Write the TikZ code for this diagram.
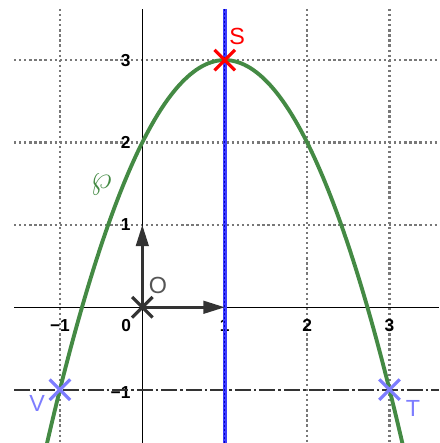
\documentclass[tikz,border=0pt]{standalone}
\usepackage{fontspec}
\setmainfont{Liberation Sans}
\usetikzlibrary{arrows.meta,shapes.misc}
\definecolor{gridgray}{RGB}{120,120,120}
\definecolor{curvegreen}{RGB}{68,138,68}
\definecolor{vecgray}{RGB}{51,51,51}
\definecolor{ptblue}{RGB}{125,125,255}
\definecolor{linblue}{RGB}{60,60,255}
\definecolor{darkblue}{RGB}{0,0,190}
\definecolor{labgray}{RGB}{85,85,85}
\tikzset{
  gridline/.style={gridgray,line width=1.9pt,dash pattern=on 1.7pt off 2.1pt},
  axisline/.style={black,line width=0.9pt},
  dashdotline/.style={vecgray,line width=1.7pt,dash pattern=on 12pt off 2.2pt on 2pt off 2.2pt},
  vec/.style={vecgray,line width=1.9pt,-{Triangle[length=16pt,width=9.5pt]}},
  ptmark/.style={cross out,draw=#1,line width=2.4pt,minimum size=13pt,inner sep=0pt},
  ticklab/.style={font=\fontsize{13}{15}\selectfont\bfseries,inner sep=0pt},
  ptlab/.style={font=\fontsize{17.5}{19}\selectfont,inner sep=0pt}
}
\begin{document}
\begin{tikzpicture}[x=61.8pt,y=61.8pt]
\useasboundingbox (-1.727,-1.647) rectangle (3.601,3.729);
% grid
\foreach \gx in {-1,1,2,3} \draw[gridline] (\gx,3.62) -- (\gx,-1.647);
\foreach \gy in {1,2,3} \draw[gridline] (-1.556,\gy) -- (3.601,\gy);
% axes
\draw[axisline] (-1.556,0) -- (3.601,0);
\draw[axisline] (0,-1.647) -- (0,3.62);
% tick labels
\foreach \tx/\tl in {-1/−1,1/1,2/2,3/3} \node[ticklab] (tx\tx) at (\tx,-0.22) {\tl};
\node[ticklab] (tx0) at (-0.197,-0.22) {0};
\foreach \ty in {1,2,3} \node[ticklab,anchor=east] (ty\ty) at (-0.14,\ty) {\ty};
\node[ticklab,anchor=east] (tym1) at (-0.14,-1.03) {−1};
% dash-dot line y=-1
\draw[dashdotline] (-1.556,-1) -- (3.601,-1);
% blue line x=1
\draw[linblue,line width=3pt] (1,3.62) -- (1,-1.647);
\draw[darkblue,line width=1pt,dash pattern=on 1.5pt off 1.5pt] (1,3.62) -- (1,-1.647);
% parabola
\begin{scope}
\clip (-1.727,-1.647) rectangle (3.601,3.729);
\draw[curvegreen,line width=2.9pt,domain=-1.17:3.17,samples=120,smooth] plot (\x,{3-(\x-1)*(\x-1)});
\end{scope}
\node[text=curvegreen,inner sep=0pt] (wp) at (-0.5,1.49) {\fontsize{30}{30}\selectfont$\wp$};
% points
\coordinate (O) at (0,0);
\coordinate (ex) at (1,0);
\coordinate (ey) at (0,1);
\draw[vec] (O) -- (ex);
\draw[vec] (O) -- (ey);
\node[ptmark=vecgray] (Om) at (O) {};
\node[ptlab,text=labgray] (Ol) at (0.19,0.27) {O};
\node[ptmark=red] (Sm) at (1,3) {};
\node[ptlab,text=red] (Sl) at (1.15,3.29) {S};
\node[ptmark=ptblue] (Vm) at (-1,-1) {};
\node[ptlab,text=ptblue] (Vl) at (-1.277,-1.163) {V};
\node[ptmark=ptblue] (Tm) at (3,-1) {};
\node[ptlab,text=ptblue] (Tl) at (3.285,-1.234) {T};
\end{tikzpicture}
\end{document}
